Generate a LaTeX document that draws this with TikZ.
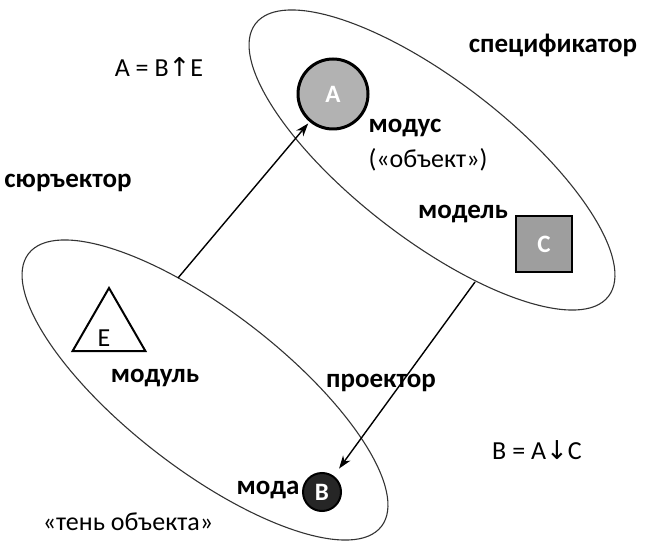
\documentclass[tikz,border=0pt]{standalone}
\usepackage{fontspec}
\setmainfont{Carlito}
\newfontfamily\arrfont{DejaVu Sans}
\usetikzlibrary{shapes.geometric,arrows.meta}

\begin{document}
\begin{tikzpicture}[
  x=1pt, y=1pt,
  font=\fontsize{26}{30}\selectfont,
  oval/.style={ellipse, draw=black!80, line width=1.1pt, minimum width=446pt,
    minimum height=158pt, inner sep=0pt, rotate=-37.7},
  elem/.style={draw=black, font=\fontsize{25}{28}\selectfont\bfseries, text=white, inner sep=0pt},
  bold/.style={font=\fontsize{27}{30}\selectfont\bfseries},
  link/.style={line width=1.4pt, -{Stealth[length=13pt, width=9pt, inset=4pt]}}
]
  \useasboundingbox (0,0) rectangle (650,-545);

  % the two sets
  \node[oval] (upper) at (432,-160) {};
  \node[oval] (lower) at (205,-390) {};

  % elements
  \node[elem, circle, line width=3pt, fill=black!30, minimum size=70pt] (A) at (333,-94) {A};
  \node[elem, rectangle, line width=2pt, fill=black!38, minimum size=56pt] (C) at (544,-244) {C};
  \node[elem, circle, line width=2pt, fill=black!85, minimum size=38pt] (B) at (322,-492) {B};
  \node[regular polygon, regular polygon sides=3, draw, line width=2pt,
    minimum size=84pt, inner sep=0pt] (E) at (109,-330) {};
  \node (lblE) at (104,-338) {E};

  % labels
  \node (eqA) at (159,-67) {A = B{\arrfont\char"2191}E};
  \node[bold] (spec) at (553,-45) {спецификатор};
  \node[bold] (modus) at (405,-128) {модус};
  \node (obj) at (428,-160) {(«объект»)};
  \node[bold] (surj) at (68,-183) {сюръектор};
  \node[bold] (model) at (463,-214) {модель};
  \node[bold] (modul) at (155,-378) {модуль};
  \node[bold] (proj) at (381,-383) {проектор};
  \node (eqB) at (537,-450) {B = A{\arrfont\char"2193}C};
  \node[bold] (moda) at (268,-490) {мода};
  \node (shadow) at (128,-522) {«тень объекта»};

  % maps between the sets
  \coordinate (s1) at (178,-278);
  \coordinate (s2) at (475,-282);
  \draw[link, shorten >=2pt] (s1) -- (A);
  \draw[link, shorten >=9pt] (s2) -- (B);
\end{tikzpicture}
\end{document}
